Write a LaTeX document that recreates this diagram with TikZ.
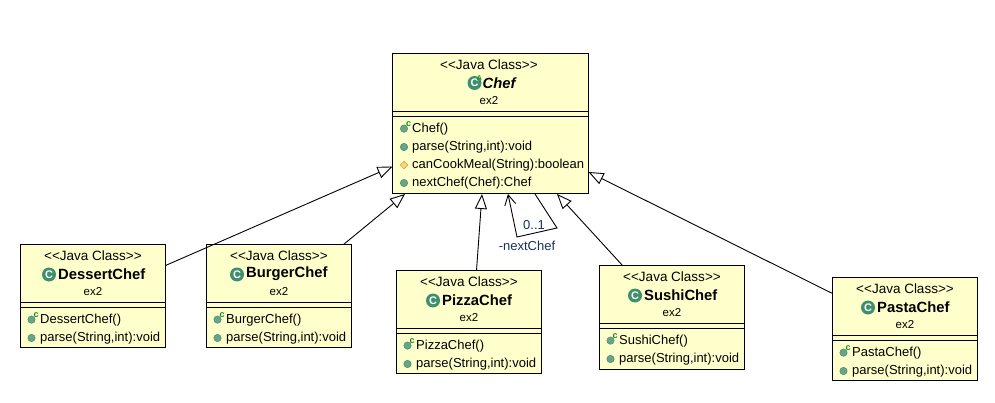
\documentclass[tikz,border=0pt]{standalone}
\usepackage{fontspec}
\setmainfont{Liberation Sans}
\usetikzlibrary{arrows.meta,calc,shapes.geometric}
\definecolor{boxfill}{HTML}{FFFFCC}
\definecolor{icongreen}{HTML}{3F8F6E}
\definecolor{iconbright}{HTML}{0E8A2E}
\definecolor{memgreen}{HTML}{6BA387}
\definecolor{diamondfill}{HTML}{F5D67E}
\definecolor{diamondline}{HTML}{C9A23A}
\definecolor{labelblue}{HTML}{1F2F5F}
\newcommand{\stereotext}{<{}<Java Class>{}>}
\tikzset{
  x=1pt,y=-1pt,
  classbox/.style={draw=black,line width=1pt,fill=boxfill,anchor=north west,inner sep=0pt,outer sep=0pt},
  body/.style={font=\fontsize{13}{15}\selectfont,text=black,inner sep=0pt},
  small/.style={font=\fontsize{13.5}{15}\selectfont,text=black,inner sep=0pt},
  pkgtext/.style={font=\fontsize{11.5}{13}\selectfont,text=black,inner sep=0pt},
  titlebold/.style={font=\fontsize{14.8}{16}\selectfont\bfseries,text=black,inner sep=0pt,anchor=west},
  sepline/.style={draw=black,line width=1pt},
  gen/.style={draw=black,line width=0.9pt,-{Triangle[open,fill=white,length=15pt,width=12pt,line width=0.9pt]}},
  assoc/.style={draw=black,line width=0.9pt,-{Straight Barb[length=10pt,width=11pt,line width=0.9pt]}},
  lab/.style={font=\fontsize{13}{15}\selectfont,text=labelblue,inner sep=0pt},
}
\newcommand{\memdot}[2]{\fill[memgreen,draw=icongreen,line width=0.5pt] (#1,#2) circle (3.7);}
\newcommand{\ctoricon}[2]{\fill[memgreen,draw=icongreen,line width=0.5pt] (#1,#2+0.6) circle (3.7);
  \node[inner sep=0pt,text=iconbright,font=\fontsize{9}{9}\selectfont\bfseries] at (#1+4.6,#2-3.9) {c};}
\newcommand{\classicon}[2]{\fill[icongreen] (#1,#2) circle (7);
  \node[inner sep=0pt,text=white,font=\fontsize{11}{11}\selectfont\bfseries] at (#1,#2) {C};}
% #1 name #2 x #3 y #4 w #5 h #6 title #7 title centre offset
\newcommand{\umlclass}[7]{
  \node[classbox,minimum width=#4 pt,minimum height=#5 pt] (#1) at (#2,#3) {};
  \node[small] (#1stereo) at (#2+#4/2,#3+11) {\stereotext};
  \classicon{#2+#4/2-#7}{#3+30}
  \node[titlebold] (#1title) at (#2+#4/2-#7+9,#3+29.5) {#6};
  \node[pkgtext] (#1pkg) at (#2+#4/2,#3+47.5) {ex2};
  \draw[sepline] (#2,#3+58) -- (#2+#4,#3+58);
  \draw[sepline] (#2,#3+63) -- (#2+#4,#3+63);
  \ctoricon{#2+11}{#3+74.5}
  \node[body,anchor=west] (#1ctor) at (#2+19.5,#3+75.5) {#6()};
  \memdot{#2+11}{#3+93.5}
  \node[body,anchor=west] (#1parse) at (#2+19.5,#3+93.5) {parse(String,int):void};
}
\begin{document}
\begin{tikzpicture}
\useasboundingbox (0,0) rectangle (995,403);
\fill[white] (0,0) rectangle (995,403);
% Chef
\node[classbox,minimum width=196pt,minimum height=140pt] (chef) at (392.5,53.5) {};
\node[small] (chefstereo) at (489,64.5) {\stereotext};
\fill[icongreen] (474.5,83) circle (7);
\node[inner sep=0pt,text=white,font=\fontsize{11}{11}\selectfont\bfseries] at (474.5,83) {C};
\node[inner sep=0pt,text=iconbright,font=\fontsize{7}{7}\selectfont\bfseries] at (479.5,78) {A};
\node[titlebold,font=\fontsize{14.8}{16}\selectfont\bfseries\itshape] (cheftitle) at (482.5,83) {Chef};
\node[pkgtext] (chefpkg) at (489,101) {ex2};
\draw[sepline] (392.5,111.5) -- (588.5,111.5);
\draw[sepline] (392.5,116.5) -- (588.5,116.5);
\ctoricon{404}{128}
\node[body,anchor=west] (m1) at (412,129) {Chef()};
\memdot{404}{147}
\node[body,anchor=west] (m2) at (412,147) {parse(String,int):void};
\node[diamond,draw=diamondline,fill=diamondfill,line width=0.5pt,minimum width=8pt,minimum height=8pt,inner sep=0pt] (d) at (404,165) {};
\node[body,anchor=west] (m3) at (412,165) {canCookMeal(String):boolean};
\memdot{404}{183}
\node[body,anchor=west] (m4) at (412,183) {nextChef(Chef):Chef};
% subclasses
\umlclass{dessert}{20.5}{244.5}{145}{103}{DessertChef}{44}
\umlclass{burger}{206.5}{244.5}{145}{103}{BurgerChef}{42}
\umlclass{pizza}{396.5}{270.5}{145}{103}{PizzaChef}{36}
\umlclass{sushi}{599.5}{265.5}{145}{104}{SushiChef}{37}
\umlclass{pasta}{832.5}{277.5}{145}{103}{PastaChef}{37}
% connectors
\draw[gen] ($(dessert.north east)+(0,21)$) -- ($(chef.south west)+(0,-27)$);
\draw[gen] ($(burger.north east)+(-8,0)$) -- ($(chef.south west)+(12.5,0.5)$);
\draw[gen] ($(pizza.north west)+(80,0)$) -- ($(chef.south west)+(89.5,0.5)$);
\draw[gen] ($(sushi.north west)+(23,0)$) -- ($(chef.south east)+(-31.5,0.5)$);
\draw[gen] ($(pasta.north west)+(0,16)$) -- ($(chef.south east)+(0,-21.5)$);
\coordinate (selfa) at (557,228);
\coordinate (selfb) at (517,237);
\draw[assoc] ($(chef.south east)+(-53.5,0.5)$) -- (selfa) -- (selfb) -- ($(chef.south west)+(115.5,0.5)$);
\node[lab] (mult) at (534,225) {0..1};
\node[lab] (role) at (527,246) {-nextChef};
\end{tikzpicture}
\end{document}
